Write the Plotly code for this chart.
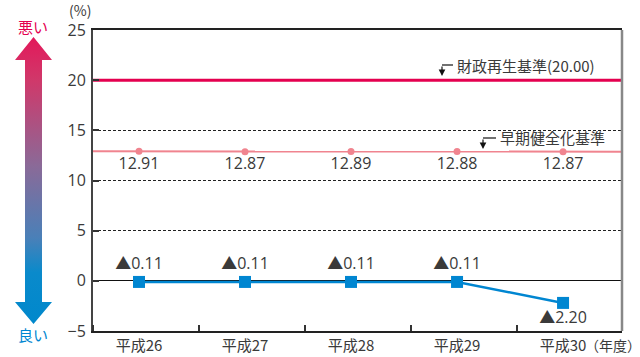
import plotly.graph_objects as go

# Fiscal years and ratios (%)
years = ["平成26", "平成27", "平成28", "平成29", "平成30"]
debt_ratio = [-0.11, -0.11, -0.11, -0.11, -2.20]
early_std = [12.91, 12.87, 12.89, 12.88, 12.87]
rebuild_std = 20.00
y_ticks = [-5, 0, 5, 10, 15, 20, 25]

W, H = 640, 357
# plot area in pixels
PL, PR, PT, PB = 93, 622, 30, 331

FONT = "Open Sans, Noto Sans CJK JP"
CJK = "Noto Sans CJK JP"
TXT = "#3a3a3a"
RED = "#e4004f"
PINK = "#f0848f"
BLUE = "#0086d1"

xs = list(range(len(years)))
step = (PR - PL) / 4.99
x0 = -46 / step
x1 = x0 + (PR - PL) / step

fig = go.Figure()

# 財政再生基準 line
fig.add_trace(go.Scatter(
    x=[x0, x1], y=[rebuild_std, rebuild_std], mode="lines",
    line=dict(color=RED, width=3), hoverinfo="skip", showlegend=False))

# 早期健全化基準 line with values
fig.add_trace(go.Scatter(
    x=[x0] + xs + [x1], y=[early_std[0]] + early_std + [early_std[-1]],
    mode="lines", line=dict(color=PINK, width=2),
    hoverinfo="skip", showlegend=False))
fig.add_trace(go.Scatter(
    x=xs, y=early_std, mode="markers+text",
    marker=dict(color=PINK, size=7),
    text=[f"{v:.2f}" for v in early_std], textposition="bottom center",
    textfont=dict(family=FONT, size=16, color=TXT), showlegend=False))

# Actual ratio series (negative values shown with ▲)
def fmt(v):
    return ("▲" if v < 0 else "") + f"{abs(v):.2f}"

fig.add_trace(go.Scatter(
    x=xs, y=debt_ratio, mode="lines+markers+text",
    line=dict(color=BLUE, width=2.5),
    marker=dict(color=BLUE, size=12, symbol="square"),
    text=[fmt(v) for v in debt_ratio],
    textposition=["top center"] * 4 + ["bottom center"],
    textfont=dict(family=FONT, size=16, color=TXT), showlegend=False))

# Gradient arrow on the left (pixel coordinates on an auxiliary axis)
cx = 33.5
arrow_x = [cx, 52, 42, 42, 52, cx, 15, 25, 25, 15, cx]
arrow_y = [37, 60, 60, 302, 302, 324, 302, 302, 60, 60, 37]
fig.add_trace(go.Scatter(
    x=arrow_x, y=arrow_y, xaxis="x2", yaxis="y2", mode="lines",
    line=dict(width=0), fill="toself",
    fillgradient=dict(type="vertical", start=37, stop=324,
                      colorscale=[[0, "#e3185a"], [0.15, "#d0386a"],
                                  [0.45, "#8a6a98"], [0.7, "#4a80b8"],
                                  [0.82, "#0a8acb"], [1, "#0088cc"]]),
    hoverinfo="skip", showlegend=False))

fig.update_layout(
    width=W, height=H, margin=dict(l=0, r=0, t=0, b=0, autoexpand=False),
    paper_bgcolor="white", plot_bgcolor="white",
    font=dict(family=FONT, color=TXT, size=15),
    xaxis=dict(
        domain=[PL / W, PR / W], range=[x0, x1], automargin=False,
        tickmode="array", tickvals=xs, ticktext=years, ticks="",
        tickfont=dict(family=CJK, size=15, color=TXT),
        minor=dict(tickmode="array",
                   tickvals=[x0 + k for k in range(6)],
                   ticks="inside", ticklen=6, tickcolor="#333", tickwidth=1.5,
                   showgrid=False),
        showgrid=False, zeroline=False,
        showline=True, linecolor="#222", linewidth=1.5, mirror=True,
        fixedrange=True),
    yaxis=dict(
        domain=[1 - PB / H, 1 - PT / H], range=[-5, 25], automargin=False,
        tickmode="array", tickvals=y_ticks,
        ticks="inside", ticklen=6, tickcolor="#333", tickwidth=1.5,
        tickfont=dict(size=16, color=TXT),
        showgrid=True, gridcolor="#222", gridwidth=1, griddash="3px,2px",
        zeroline=True, zerolinecolor="#111", zerolinewidth=1.2,
        showline=True, linecolor="#444", linewidth=1.8,
        ticklabelstandoff=2, fixedrange=True),
    xaxis2=dict(domain=[0, PL / W], range=[0, PL], visible=False,
                anchor="y2", fixedrange=True, automargin=False),
    yaxis2=dict(domain=[0, 1], range=[H, 0], visible=False,
                anchor="x2", fixedrange=True, automargin=False),
)

# Right border of the plot area
fig.add_shape(type="line", xref="paper", yref="paper",
              x0=PR / W, x1=PR / W, y0=1 - PB / H, y1=1 - PT / H,
              line=dict(color="#888", width=2.5))

def px(x):
    return x / W

def py(y):
    return 1 - y / H

# Bent arrows pointing at the standard lines
for hx0, hx1, hy, tip in [(442, 453, 65, 76), (483, 496, 138, 149)]:
    fig.add_shape(type="line", xref="paper", yref="paper",
                  x0=px(hx0), x1=px(hx1), y0=py(hy), y1=py(hy),
                  line=dict(color="#111", width=1.2))
    fig.add_annotation(xref="paper", yref="paper", x=px(hx0), y=py(tip),
                       ax=0, ay=-(tip - hy), text="", showarrow=True,
                       arrowhead=2, arrowsize=1.1, arrowwidth=1.2,
                       arrowcolor="#111")

labels = [
    (455, 65, "財政再生基準(20.00)", "left", TXT, 15, CJK),
    (498, 138, "早期健全化基準", "left", TXT, 15, CJK),
    (80, 10, "(%)", "center", TXT, 14, CJK),
    (583, 345, "（年度）", "left", TXT, 14, CJK),
    (33, 27, "悪い", "center", RED, 15, CJK),
    (33, 334, "良い", "center", BLUE, 15, CJK),
]
for x, y, t, anc, col, sz, fam in labels:
    fig.add_annotation(xref="paper", yref="paper", x=px(x), y=py(y),
                       text=t, showarrow=False, xanchor=anc, yanchor="middle",
                       font=dict(family=fam, size=sz, color=col))

fig.write_html("out.html")
